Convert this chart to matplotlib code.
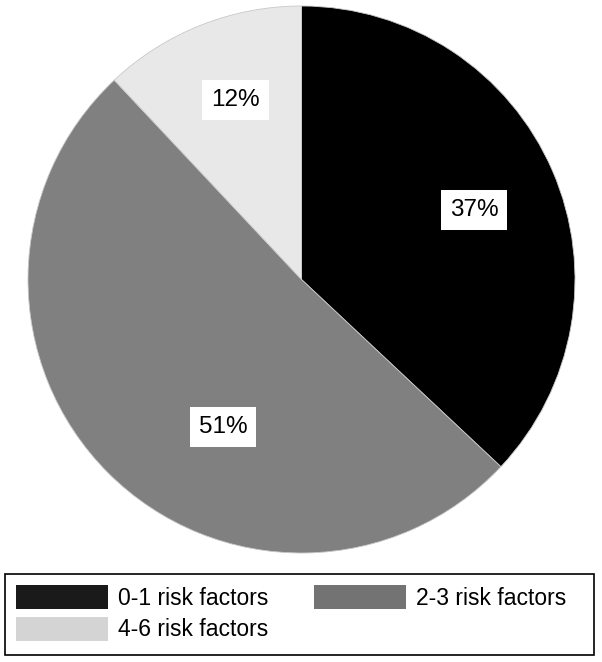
import numpy as np
import matplotlib.pyplot as plt
from matplotlib.patches import Patch, Rectangle

plt.rcParams["font.family"] = ["Liberation Sans", "DejaVu Sans"]

labels = ["0-1 risk factors", "2-3 risk factors", "4-6 risk factors"]
shares = [37, 51, 12]
pie_colors = ["#000000", "#808080", "#e8e8e8"]
legend_colors = ["#1a1a1a", "#737373", "#d4d4d4"]

# label placement tweaks (radius fraction, angle nudge in degrees)
label_radius = [0.68, 0.61, 0.70]
label_nudge = [-1.5, 17.0, -1.5]

W, H = 602, 662
fig = plt.figure(figsize=(W / 100, H / 100), dpi=100)
ax = fig.add_axes([27 / W, 109 / H, 549 / W, 547 / H])

wedges, texts, autotexts = ax.pie(
    shares,
    colors=pie_colors,
    startangle=90,
    counterclock=False,
    autopct="%d%%",
    pctdistance=0.68,
    wedgeprops=dict(linewidth=0.6, edgecolor="#c8c8c8"),
    textprops=dict(fontsize=17.5, color="black"),
)
for w, t, r, nd in zip(wedges, autotexts, label_radius, label_nudge):
    mid = np.deg2rad((w.theta1 + w.theta2) / 2 + nd)
    t.set_position((r * np.cos(mid), r * np.sin(mid)))
    t.set_bbox(dict(facecolor="white", edgecolor="none", pad=6.5))
ax.set_xlim(-1.0, 1.0)
ax.set_ylim(-1.0, 1.0)
ax.set_aspect("equal")
ax.axis("off")

# legend frame drawn separately so it spans the full width
fig.patches.append(Rectangle((5 / W, 7 / H), 589 / W, 81 / H,
                             transform=fig.transFigure, facecolor="white",
                             edgecolor="black", linewidth=1.2))

# legend ordered row-wise: 0-1, 2-3 on first row, 4-6 below
handles = [Patch(facecolor=c, edgecolor="none") for c in legend_colors]
order = [0, 2, 1]
leg = fig.legend(
    [handles[i] for i in order],
    [labels[i] for i in order],
    ncol=2,
    loc="upper left",
    bbox_to_anchor=(5 / W, 1 - 574 / H),
    frameon=False,
    fontsize=16.5,
    handlelength=4.0,
    handleheight=1.24,
    handletextpad=0.45,
    columnspacing=2.0,
    labelspacing=0.3,
    borderaxespad=0,
    borderpad=0.48,
)

fig.savefig("out.png", dpi=100)
